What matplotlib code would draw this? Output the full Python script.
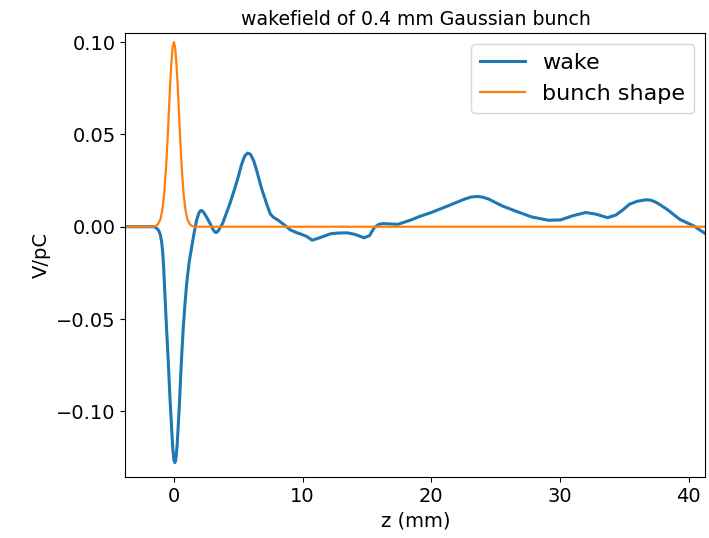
import matplotlib
matplotlib.use("Agg")
import matplotlib.pyplot as plt
import numpy as np

# wake potential (z in mm, V/pC)
z_wake = [-3.76, -2.5, -1.6, -1.48, -1.38, -1.25, -1.15, -1.05, -0.96, -0.88, -0.79, -0.70,
          -0.57, -0.44, -0.31, -0.18, -0.08, 0.0, 0.08, 0.16, 0.25, 0.33, 0.43, 0.52, 0.62,
          0.73, 0.86, 0.99, 1.18, 1.38, 1.57, 1.76, 1.95, 2.05, 2.15, 2.25, 2.35, 2.54,
          2.85, 3.05, 3.19, 3.32, 3.45, 3.8, 4.35, 4.7, 5.0, 5.25, 5.5, 5.73, 5.95, 6.2,
          6.43, 6.8, 7.2, 7.49, 7.72, 8.1, 8.53, 9.02, 9.56, 9.8, 10.3, 10.75, 11.4,
          12.18, 12.8, 13.48, 14.1, 14.78, 15.2, 15.57, 15.9, 16.23, 16.8, 17.4, 18.44,
          19.1, 20.0, 21.3, 22.6, 23.1, 23.6, 24.0, 24.45, 25.5, 26.5, 27.8, 29.1, 30.05,
          30.97, 32.0, 32.8, 33.7, 34.36, 34.9, 35.4, 36.0, 36.7, 37.1, 37.5, 38.3, 39.3,
          40.4, 41.3]
w_wake = [0.0, 0.0, 0.0, -0.0002, -0.0006, -0.0014, -0.0025, -0.0045, -0.0078, -0.0129,
          -0.0225, -0.0364, -0.055, -0.0725, -0.092, -0.1087, -0.1205, -0.1262, -0.1277,
          -0.1255, -0.1185, -0.1087, -0.096, -0.0816, -0.068, -0.0545, -0.042, -0.0309,
          -0.0195, -0.0111, -0.0035, 0.0034, 0.0076, 0.0086, 0.0088, 0.0083, 0.0074, 0.0052,
          0.0012, -0.0016, -0.0029, -0.0031, -0.0022, 0.002, 0.0125, 0.02, 0.027, 0.0335,
          0.0383, 0.0399, 0.0392, 0.0357, 0.0305, 0.021, 0.0125, 0.0069, 0.0052, 0.0035,
          0.0013, -0.0016, -0.0033, -0.0038, -0.0052, -0.0073, -0.0058, -0.0038, -0.0034,
          -0.0033, -0.0042, -0.006, -0.0048, -0.0005, 0.0012, 0.0017, 0.0015, 0.0013,
          0.0037, 0.0056, 0.0077, 0.0113, 0.015, 0.0161, 0.0164, 0.016, 0.015, 0.0113,
          0.0086, 0.0053, 0.0035, 0.0037, 0.0059, 0.0077, 0.0068, 0.0049, 0.0064, 0.0092,
          0.0122, 0.0138, 0.0146, 0.0143, 0.0131, 0.0095, 0.004, 0.0004, -0.0038]

# bunch profile (scaled for display)
z_bunch = [-3.76, -1.6, -1.45, -1.25, -1.05, -0.9, -0.75, -0.6, -0.45, -0.3, -0.2, -0.1,
           0.0, 0.1, 0.2, 0.3, 0.45, 0.6, 0.75, 0.9, 1.05, 1.25, 1.45, 1.6, 41.3]
b_bunch = [0.0, 0.0, 0.0003, 0.0012, 0.004, 0.009, 0.018, 0.033, 0.053, 0.076, 0.088,
           0.097, 0.100, 0.097, 0.088, 0.076, 0.053, 0.033, 0.018, 0.009, 0.004, 0.0012,
           0.0003, 0.0, 0.0]

fig = plt.figure(figsize=(7.09, 5.38), dpi=100)
ax = fig.add_axes([0.177, 0.1134, 0.818, 0.8253])
ax.plot(z_wake, w_wake, color='tab:blue', linewidth=2.2, label='wake')
ax.plot(z_bunch, b_bunch, color='tab:orange', linewidth=1.6, label='bunch shape')
ax.set_xlim(-3.76, 41.3)
ax.set_ylim(-0.1355, 0.1049)
ax.set_yticks([-0.10, -0.05, 0.0, 0.05, 0.10])
ax.set_xlabel('z (mm)', fontsize=14)
ax.set_ylabel('V/pC', fontsize=14)
ax.set_title('wakefield of 0.4 mm Gaussian bunch', fontsize=13.6)
ax.tick_params(labelsize=14)
ax.legend(fontsize=16, loc='upper right')
fig.savefig('out.png', dpi=100)
